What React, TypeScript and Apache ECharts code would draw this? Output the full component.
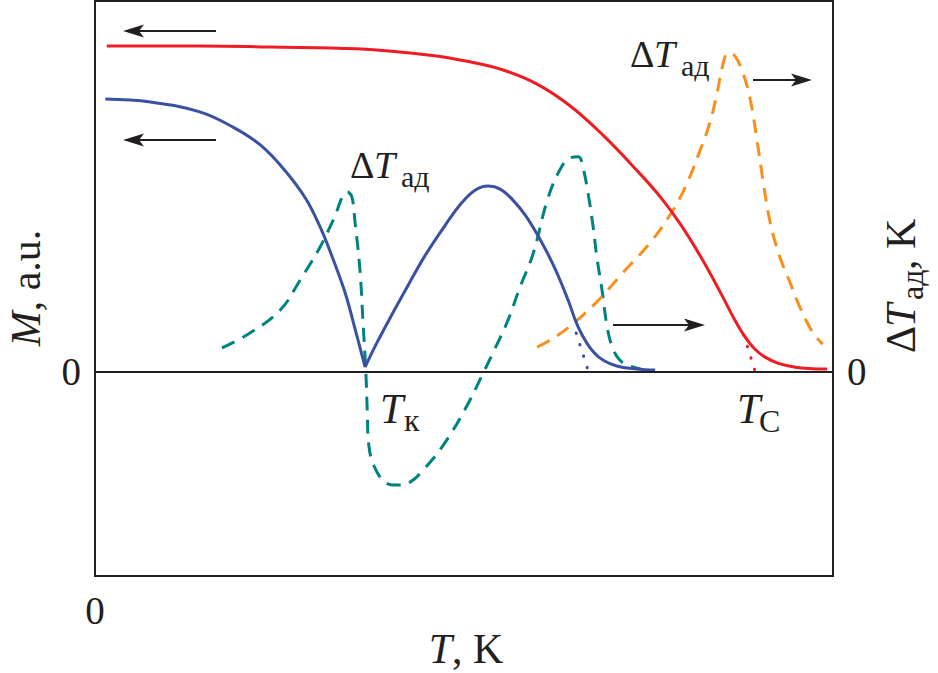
import React, { useEffect, useRef } from 'react';
import * as echarts from 'echarts';

const FONT = '"Liberation Serif", "Times New Roman", serif';
const INK = '#231f20';
const RED = '#ee1d23';
const BLUE = '#3a51a3';
const TEAL = '#00837e';
const ORANGE = '#f7901e';

// Temperature axis (arbitrary units) and tick labels
const xTickLabels = [0];
const yTickLabels = [0];

// Magnetization M(T), a.u. — ferromagnet (red)
const redMagnetization: [number, number][] = [
  [1.6, 87.9], [14.2, 87.9], [23.7, 87.6], [35.5, 87.1], [45.4, 85.4], [50.8, 83.6],
  [55.3, 81.4], [59.9, 77.6], [64.4, 71.7], [68.8, 63.9], [73.4, 54.4], [76.6, 47.2],
  [79.3, 39.9], [82.0, 31.3], [84.7, 21.6], [86.7, 14.0], [88.1, 9.4], [89.4, 6.2],
  [90.8, 4.0], [92.5, 2.4], [94.9, 1.3], [97.2, 0.9], [99.2, 0.8],
];

// Magnetization M(T), a.u. — compensated ferrimagnet (blue), below and above T_K
const blueMagnetizationLow: [number, number][] = [
  [1.4, 73.6], [7.5, 72.8], [14.2, 70.1], [18.7, 66.0], [22.4, 61.2], [25.7, 54.4],
  [28.5, 46.9], [30.5, 39.1], [32.2, 30.7], [33.9, 21.3], [35.2, 11.9], [36.6, 1.3],
];
const blueMagnetizationHigh: [number, number][] = [
  [36.6, 1.3], [37.9, 6.7], [40.0, 14.6], [42.3, 22.9], [44.7, 31.3], [47.4, 39.4],
  [49.7, 45.6], [51.6, 49.1], [53.3, 50.1], [54.9, 49.3], [56.5, 46.6], [58.3, 42.3],
  [60.3, 35.8], [62.3, 28.0], [64.1, 19.4], [65.4, 12.4], [66.8, 7.3], [68.4, 3.8],
  [70.7, 1.6], [73.4, 0.8], [75.9, 0.5],
];

// Adiabatic temperature change ΔT_ad, K (teal, for the ferrimagnet)
const tealDeltaT: [number, number][] = [
  [17.2, 6.5], [21.0, 10.5], [25.1, 16.7], [27.8, 24.8], [30.5, 33.7], [32.3, 41.0],
  [34.2, 48.5], [34.8, 47.2], [35.2, 41.0], [35.9, 27.5], [36.3, 14.0], [36.7, 0],
  [36.9, -11.1], [37.1, -19.7], [37.8, -25.3], [39.3, -29.7], [40.9, -30.5], [42.7, -29.7],
  [44.7, -25.9], [47.2, -19.7], [50.1, -10.2], [52.6, -0.3], [53.9, 5.1], [55.8, 13.2],
  [57.6, 22.9], [59.4, 32.1], [61.3, 46.4], [63.0, 54.5], [64.4, 57.7], [65.5, 58.0],
  [66.1, 55.3], [66.8, 48.3], [67.5, 39.1], [68.0, 31.0], [68.7, 22.1], [69.4, 12.1],
  [70.1, 6.7], [71.1, 3.2], [72.5, 1.6], [73.9, 0.8],
];

// Adiabatic temperature change ΔT_ad, K (orange, for the ferromagnet)
const orangeDeltaT: [number, number][] = [
  [59.9, 6.7], [61.7, 8.6], [64.4, 12.4], [68.0, 18.9], [71.5, 26.7], [75.2, 34.8],
  [77.9, 42.3], [80.0, 49.9], [82.0, 59.8], [83.3, 67.1], [84.3, 75.2], [85.0, 82.2],
  [85.8, 86.0], [86.7, 85.2], [87.8, 80.6], [88.8, 73.3], [89.7, 62.5], [90.5, 51.8],
  [91.5, 40.2], [92.8, 31.0], [94.2, 24.0], [95.5, 17.5], [97.3, 10.5], [98.6, 7.5],
];

// Dotted tangents pointing to the transition temperatures
const redTangent: [number, number][] = [[87.9, 10.0], [89.4, 0.5]];
const blueTangent: [number, number][] = [[65.2, 10.5], [66.8, 0.5]];

const txt = (x: number, y: number, text: string, size: number, italic = false, align = 'left') => ({
  type: 'text',
  x,
  y,
  silent: true,
  style: {
    text,
    fontSize: size,
    fontFamily: FONT,
    fontStyle: italic ? 'italic' : 'normal',
    fill: INK,
    align,
    verticalAlign: 'middle',
  },
});

const arrow = (x1: number, x2: number, y: number) => {
  const d = Math.sign(x2 - x1);
  return {
    type: 'group',
    silent: true,
    children: [
      { type: 'line', shape: { x1, y1: y, x2: x2 - d * 12, y2: y }, style: { stroke: INK, lineWidth: 2 } },
      {
        type: 'polygon',
        shape: { points: [[x2, y], [x2 - d * 21, y - 6.5], [x2 - d * 16, y], [x2 - d * 21, y + 6.5]] },
        style: { fill: INK },
      },
    ],
  };
};

const deltaLabel = (x: number, y: number) => [
  txt(x, y, 'Δ', 38),
  txt(x + 24, y, 'T', 38, true),
  txt(x + 51, y + 11, 'ад', 30),
];

export default function App() {
  const ref = useRef<HTMLDivElement>(null);
  useEffect(() => {
    const chart = echarts.init(ref.current!, null, { renderer: 'svg' });
    const curve = (data: [number, number][], color: string, dashed: boolean, extra: any = {}) => ({
      type: 'line',
      data,
      smooth: 0.4,
      symbol: 'none',
      showSymbol: false,
      silent: true,
      lineStyle: { color, width: 3, type: dashed ? [14, 9] : 'solid' },
      ...extra,
    });
    const dotted = (data: [number, number][], color: string) => ({
      type: 'line',
      data,
      symbol: 'none',
      silent: true,
      lineStyle: { color, width: 3, type: [0.5, 11.5], cap: 'round' },
    });
    const axisLabelBase = { fontSize: 39, fontFamily: FONT, color: INK };
    chart.setOption({
      animation: false,
      backgroundColor: '#fff',
      grid: {
        left: 95,
        top: 1,
        width: 738,
        height: 575,
        show: true,
        borderColor: INK,
        borderWidth: 2,
        backgroundColor: 'transparent',
      },
      xAxis: {
        type: 'value',
        min: 0,
        max: 100,
        axisLine: { show: false },
        axisTick: { show: false },
        splitLine: { show: false },
        axisLabel: { ...axisLabelBase, customValues: xTickLabels, margin: 15 },
      },
      yAxis: [
        {
          type: 'value',
          min: -55,
          max: 100,
          position: 'left',
          axisLine: { show: false },
          axisTick: { show: false },
          splitLine: { show: false },
          axisLabel: { ...axisLabelBase, customValues: yTickLabels, margin: 14 },
        },
        {
          type: 'value',
          min: -55,
          max: 100,
          position: 'right',
          axisLine: { show: false },
          axisTick: { show: false },
          splitLine: { show: false },
          axisLabel: { ...axisLabelBase, customValues: yTickLabels, margin: 14 },
        },
      ],
      series: [
        curve(tealDeltaT, TEAL, true, { yAxisIndex: 1 }),
        curve(orangeDeltaT, ORANGE, true, { yAxisIndex: 1 }),
        curve(redMagnetization, RED, false, {
          markLine: {
            silent: true,
            symbol: ['none', 'none'],
            label: { show: false },
            lineStyle: { color: INK, width: 2, type: 'solid' },
            data: [{ yAxis: 0 }],
          },
        }),
        curve(blueMagnetizationLow, BLUE, false),
        curve(blueMagnetizationHigh, BLUE, false),
        dotted(redTangent, RED),
        dotted(blueTangent, BLUE),
      ],
      graphic: [
        arrow(216, 123, 31),
        arrow(216, 123, 140),
        arrow(753, 812, 80),
        arrow(613, 705, 325),
        ...deltaLabel(350, 165),
        ...deltaLabel(630, 54),
        txt(380, 409, 'T', 42, true),
        txt(404, 420, 'к', 32),
        txt(737, 409, 'T', 42, true),
        txt(759, 421, 'C', 32),
        {
          type: 'text',
          x: 466,
          y: 649,
          silent: true,
          style: {
            text: '{i|T}, K',
            rich: { i: { fontStyle: 'italic', fontSize: 42, fontFamily: FONT, fill: INK } },
            fontSize: 42,
            fontFamily: FONT,
            fill: INK,
            align: 'center',
            verticalAlign: 'middle',
          },
        },
        {
          type: 'group',
          x: 26,
          y: 288,
          rotation: Math.PI / 2,
          silent: true,
          children: [
            {
              type: 'text',
              x: 0,
              y: 0,
              style: {
                text: '{i|M}, a.u.',
                rich: { i: { fontStyle: 'italic', fontSize: 42, fontFamily: FONT, fill: INK } },
                fontSize: 42,
                fontFamily: FONT,
                fill: INK,
                align: 'center',
                verticalAlign: 'middle',
              },
            },
          ],
        },
        {
          type: 'group',
          x: 901,
          y: 287,
          rotation: Math.PI / 2,
          silent: true,
          children: [
            txt(-66, 0, 'Δ', 42),
            txt(-40, 0, 'T', 42, true),
            txt(-13, 11, 'ад', 32),
            txt(17, 0, ', K', 42),
          ],
        },
      ],
    });
    return () => chart.dispose();
  }, []);
  return (
    <div
      ref={ref}
      style={{ position: 'absolute', left: 0, top: 0, width: 938, height: 673, background: '#fff' }}
    />
  );
}
